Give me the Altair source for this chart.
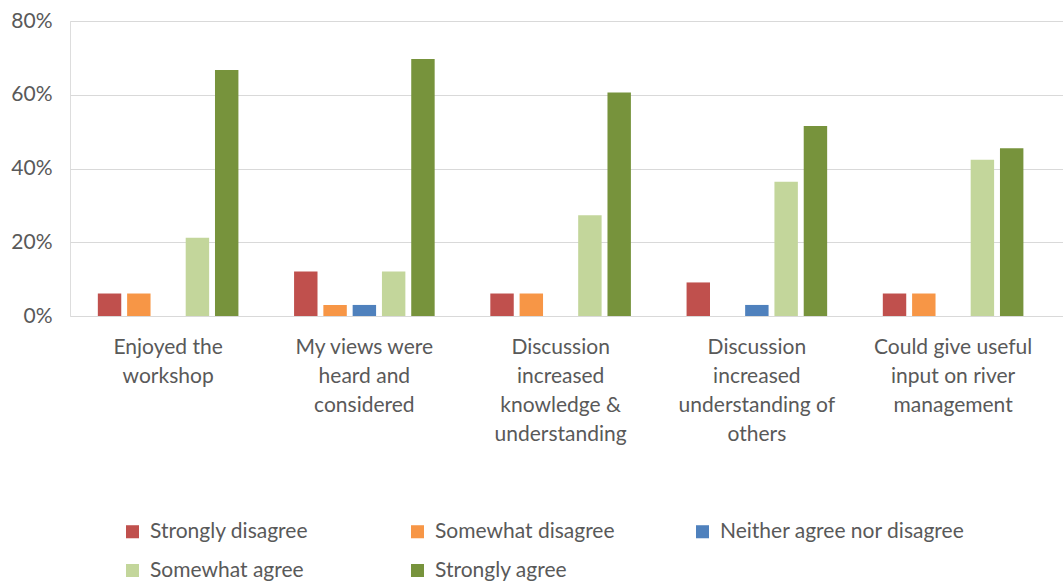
import altair as alt
import pandas as pd

categories = [
    "Enjoyed the\nworkshop",
    "My views were\nheard and\nconsidered",
    "Discussion\nincreased\nknowledge &\nunderstanding",
    "Discussion\nincreased\nunderstanding of\nothers",
    "Could give useful\ninput on river\nmanagement",
]
series = [
    "Strongly disagree",
    "Somewhat disagree",
    "Neither agree nor disagree",
    "Somewhat agree",
    "Strongly agree",
]
colors = ["#c0504d", "#f79646", "#4f81bd", "#c3d69b", "#77933c"]

strongly_disagree = [6.1, 12.1, 6.1, 9.1, 6.1]
somewhat_disagree = [6.1, 3.0, 6.1, 0.0, 6.1]
neither = [0.0, 3.0, 0.0, 3.0, 0.0]
somewhat_agree = [21.2, 12.1, 27.3, 36.4, 42.4]
strongly_agree = [66.7, 69.7, 60.6, 51.5, 45.5]

values = [strongly_disagree, somewhat_disagree, neither, somewhat_agree, strongly_agree]

rows = []
for s, vals in zip(series, values):
    for c, v in zip(categories, vals):
        rows.append({"category": c, "series": s, "value": v / 100.0})
df = pd.DataFrame(rows)

FONT = "Lato"
GREY = "#595959"

chart = (
    alt.Chart(df)
    .mark_bar()
    .encode(
        x=alt.X(
            "category:N",
            sort=categories,
            title=None,
            scale=alt.Scale(paddingInner=0, paddingOuter=0.03, align=0),
            axis=alt.Axis(
                labelAngle=0,
                labelExpr="split(datum.label, '\\n')",
                labelFontSize=21,
                labelFont=FONT,
                labelColor=GREY,
                labelLineHeight=29,
                labelPadding=20,
                labelBaseline="top",
                ticks=False,
                domain=False,
                labelLimit=300,
            ),
        ),
        xOffset=alt.XOffset(
            "series:N",
            sort=series,
            scale=alt.Scale(paddingInner=0.2, paddingOuter=0.95),
        ),
        y=alt.Y(
            "value:Q",
            title=None,
            scale=alt.Scale(domain=[0, 0.8], nice=False),
            axis=alt.Axis(
                format=".0%",
                values=[0, 0.2, 0.4, 0.6, 0.8],
                labelFontSize=21,
                labelFont=FONT,
                labelColor=GREY,
                labelPadding=18,
                ticks=False,
                domain=False,
                gridColor="#d9d9d9",
                gridWidth=1,
            ),
        ),
        color=alt.Color(
            "series:N",
            sort=series,
            scale=alt.Scale(domain=series, range=colors),
            legend=alt.Legend(
                title=None,
                orient="none",
                legendX=52,
                legendY=500,
                direction="horizontal",
                columns=3,
                gridAlign="all",
                columnPadding=12,
                rowPadding=17,
                symbolType="square",
                symbolSize=170,
                symbolStrokeWidth=0,
                labelFontSize=21,
                labelFont=FONT,
                labelColor=GREY,
                labelOffset=7,
                labelLimit=400,
                padding=0,
            ),
        ),
    )
    .properties(
        width=993,
        height=295,
        padding={"left": 70, "top": 21, "right": 0, "bottom": 267},
        autosize=alt.AutoSizeParams(type="none"),
    )
    .configure_view(stroke=None)
    .configure(background="white")
)

chart.save("out.html", embed_options={"renderer": "svg", "actions": False})
